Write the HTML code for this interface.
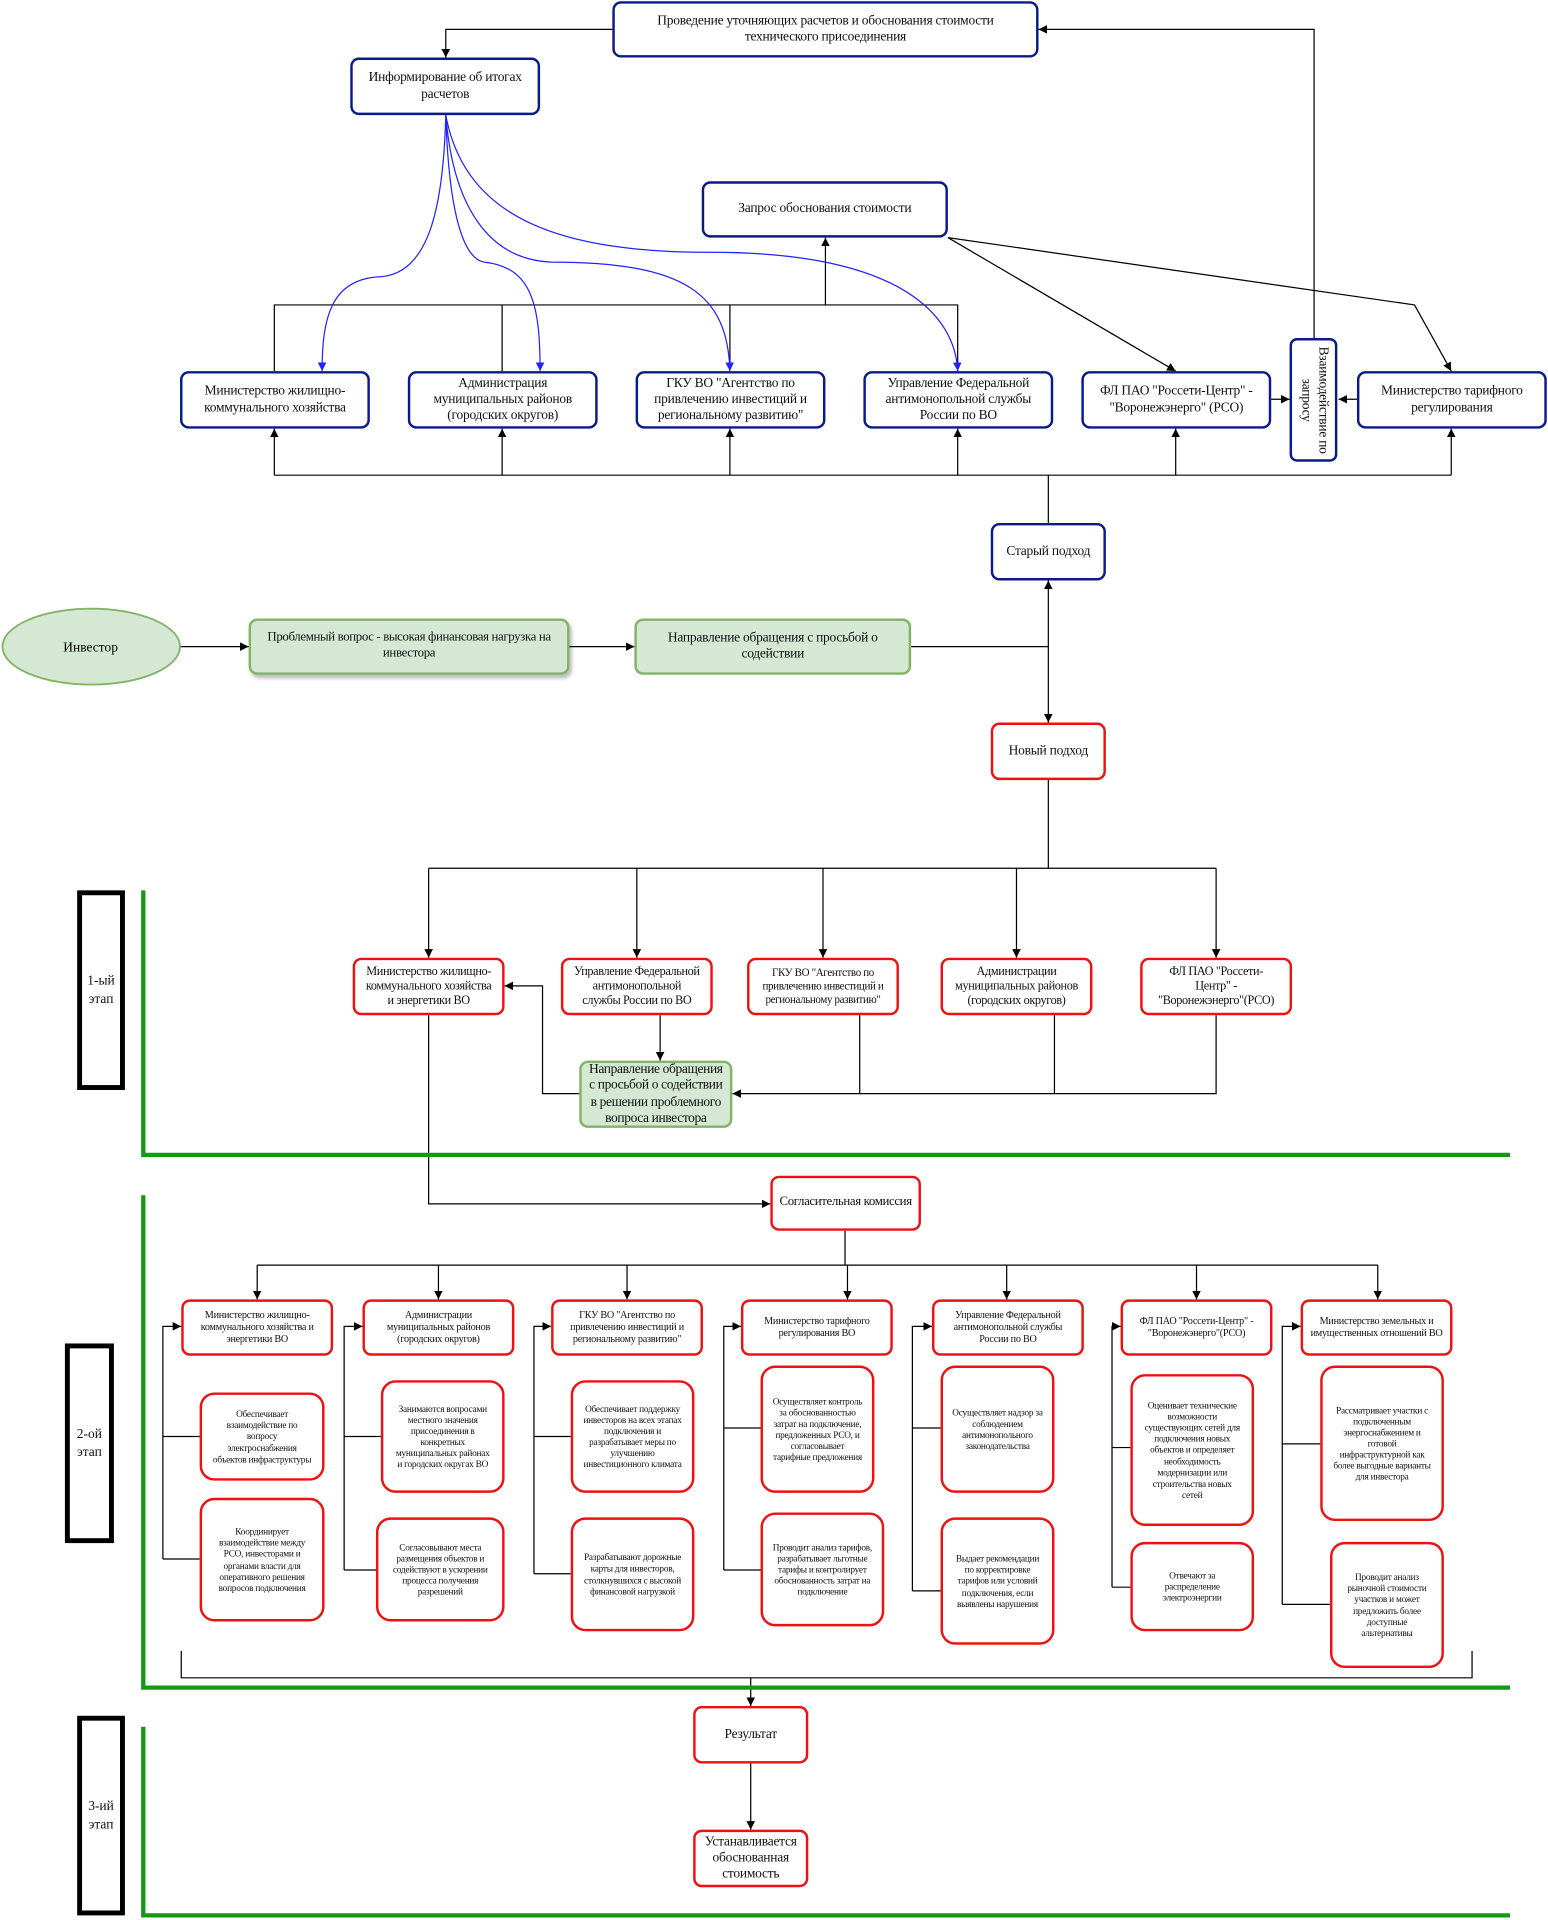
<!DOCTYPE html>
<html><head><meta charset="utf-8"><style>
html,body{margin:0;padding:0;background:#fff;}
body{width:1548px;height:1920px;overflow:hidden;position:relative;}
#c{position:absolute;left:0;top:0;width:1264px;height:1568px;transform:scale(1.22468);transform-origin:0 0;font-family:"Liberation Serif",serif;color:#111;}
.b{position:absolute;box-sizing:border-box;display:flex;align-items:center;justify-content:center;text-align:center;border-radius:7px;background:#fff;line-height:1.2;overflow:hidden;white-space:nowrap;letter-spacing:-0.2px;}
.bl{border:2.5px solid #0a1a8a;font-size:11px;}
.rd{border:2.5px solid #ee1111;font-size:11px;}
.r1{font-size:10px;letter-spacing:-0.3px;}
.gr{border:2px solid #82b366;background:#d5e8d4;font-size:11px;}
.h{font-size:8.3px;}
.d{font-size:7.6px;border-radius:12px;}
.st{position:absolute;box-sizing:border-box;border:4px solid #000;display:flex;align-items:center;justify-content:center;text-align:center;font-size:11px;line-height:1.3;}
svg{position:absolute;left:0;top:0;}
</style></head><body><div id="c">
<svg width="1264" height="1568" viewBox="0 0 1264 1568">
<defs><marker id="a" markerWidth="8" markerHeight="8" refX="7" refY="4" orient="auto" markerUnits="userSpaceOnUse"><path d="M0,0.5 L7,4 L0,7.5 Z" fill="#000"/></marker>
<marker id="ab" markerWidth="8" markerHeight="8" refX="7" refY="4" orient="auto" markerUnits="userSpaceOnUse"><path d="M0,0.5 L7,4 L0,7.5 Z" fill="#2222ff"/></marker></defs>
<g fill="none" stroke="#000" stroke-width="1">
<path d="M500,24 H364 V47" marker-end="url(#a)"/>
<path d="M1073,276 V24 H848" marker-end="url(#a)"/>
<path d="M224,303 V249 H782 V303 M410,303 V249 M596,303 V249"/>
<path d="M674,249 V194" marker-end="url(#a)"/>
<path d="M774,194 L960,303" marker-end="url(#a)"/>
<path d="M774,194 L1155,249 L1185,303" marker-end="url(#a)"/>
<path d="M1038,326 H1053" marker-end="url(#a)"/>
<path d="M1108,326 H1093" marker-end="url(#a)"/>
<path d="M224,388 H1185"/>
<path d="M224,388 V350" marker-end="url(#a)"/><path d="M410,388 V350" marker-end="url(#a)"/><path d="M596,388 V350" marker-end="url(#a)"/><path d="M782,388 V350" marker-end="url(#a)"/><path d="M960,388 V350" marker-end="url(#a)"/><path d="M1185,388 V350" marker-end="url(#a)"/>
<path d="M856,388 V427"/>
<path d="M147,528 H203" marker-end="url(#a)"/>
<path d="M465,528 H518" marker-end="url(#a)"/>
<path d="M744,528 H856"/>
<path d="M856,528 V474" marker-end="url(#a)"/>
<path d="M856,528 V590" marker-end="url(#a)"/>
<path d="M856,637 V709 H350 M856,709 H993"/>
<path d="M350,709 V782" marker-end="url(#a)"/><path d="M520,709 V782" marker-end="url(#a)"/><path d="M672,709 V782" marker-end="url(#a)"/><path d="M830,709 V782" marker-end="url(#a)"/><path d="M993,709 V782" marker-end="url(#a)"/>
<path d="M539,829 V866" marker-end="url(#a)"/>
<path d="M473,893 H443 V805 H412" marker-end="url(#a)"/>
<path d="M702,829 V893 M861,829 V893 M993,829 V893 H598" marker-end="url(#a)"/>
<path d="M350,829 V983 H629" marker-end="url(#a)"/>
<path d="M690,1005 V1033 M210,1033 H1125"/>
<path d="M210,1033 V1061" marker-end="url(#a)"/><path d="M358,1033 V1061" marker-end="url(#a)"/><path d="M512,1033 V1061" marker-end="url(#a)"/><path d="M692,1033 V1061" marker-end="url(#a)"/><path d="M822,1033 V1061" marker-end="url(#a)"/><path d="M977,1033 V1061" marker-end="url(#a)"/><path d="M1125,1033 V1061" marker-end="url(#a)"/>
<path d="M133,1273 V1083 H148" marker-end="url(#a)"/><path d="M133,1173 H163 M133,1273 H163"/>
<path d="M281,1282 V1083 H296" marker-end="url(#a)"/><path d="M281,1173 H311 M281,1282 H307"/>
<path d="M436,1285 V1083 H450" marker-end="url(#a)"/><path d="M436,1173 H466 M436,1285 H466"/>
<path d="M591,1282 V1083 H605" marker-end="url(#a)"/><path d="M591,1166 H621 M591,1282 H621"/>
<path d="M745,1299 V1083 H761" marker-end="url(#a)"/><path d="M745,1166 H768 M745,1299 H768"/>
<path d="M908,1296 V1083 H915" marker-end="url(#a)"/><path d="M908,1182 H923 M908,1296 H923"/>
<path d="M1047,1310 V1083 H1062" marker-end="url(#a)"/><path d="M1047,1179 H1078 M1047,1310 H1086"/>
<path d="M148,1348 V1370 H1202 V1348"/>
<path d="M613,1370 V1393" marker-end="url(#a)"/>
<path d="M613,1440 V1494" marker-end="url(#a)"/>
</g>
<g fill="none" stroke="#2222ff" stroke-width="1">
<path d="M364,94 C362,170 350,224 310,226 C270,228 263,260 263,303" marker-end="url(#ab)"/>
<path d="M364,94 C366,160 375,210 395,214 C435,218 441,250 441,303" marker-end="url(#ab)"/>
<path d="M364,94 C370,170 400,212 450,214 C560,214 594,240 596,303" marker-end="url(#ab)"/>
<path d="M364,94 C380,180 460,206 580,206 C740,206 780,260 782,303" marker-end="url(#ab)"/>
</g>
<g fill="none" stroke="#129a12" stroke-width="3.5">
<path d="M117,727 V943 H1233"/>
<path d="M117,976 V1378 H1233"/>
<path d="M117,1410 V1564 H1233"/>
</g>
<ellipse cx="74.5" cy="528" rx="72.5" ry="31" fill="#d5e8d4" stroke="#82b366" stroke-width="1.5"/>
<text x="74" y="532" font-family="Liberation Serif,serif" font-size="11" text-anchor="middle">Инвестор</text>
</svg>

<div class="b bl" style="left:500px;top:1px;width:348px;height:46px">Проведение уточняющих расчетов и обоснования стоимости<br>технического присоединения</div>
<div class="b bl" style="left:286px;top:47px;width:155px;height:47px">Информирование об итогах<br>расчетов</div>
<div class="b bl" style="left:573px;top:148px;width:201px;height:46px">Запрос обоснования стоимости</div>
<div class="b bl" style="left:147px;top:303px;width:155px;height:47px">Министерство жилищно-<br>коммунального хозяйства</div>
<div class="b bl" style="left:333px;top:303px;width:155px;height:47px">Администрация<br>муниципальных районов<br>(городских округов)</div>
<div class="b bl" style="left:519px;top:303px;width:155px;height:47px">ГКУ ВО "Агентство по<br>привлечению инвестиций и<br>региональному развитию"</div>
<div class="b bl" style="left:705px;top:303px;width:155px;height:47px">Управление Федеральной<br>антимонопольной службы<br>России по ВО</div>
<div class="b bl" style="left:883px;top:303px;width:155px;height:47px">ФЛ ПАО "Россети-Центр" -<br>"Воронежэнерго" (РСО)</div>
<div class="b bl" style="left:1053px;top:276px;width:39px;height:101px;border-radius:6px"><div style="transform:rotate(90deg);white-space:nowrap;line-height:1.25">Взаимодействие по<br>запросу</div></div>
<div class="b bl" style="left:1108px;top:303px;width:155px;height:47px">Министерство тарифного<br>регулирования</div>
<div class="b bl" style="left:809px;top:427px;width:94px;height:47px">Старый подход</div>

<div class="b gr" style="left:203px;top:505px;width:262px;height:46px;box-shadow:2px 3px 3px rgba(0,0,0,0.25);font-size:10.5px;letter-spacing:-0.3px">Проблемный вопрос - высокая финансовая нагрузка на<br>инвестора</div>
<div class="b gr" style="left:518px;top:505px;width:226px;height:46px">Направление обращения с просьбой о<br>содействии</div>
<div class="b rd" style="left:809px;top:590px;width:94px;height:47px">Новый подход</div>

<div class="b rd r1" style="left:288px;top:782px;width:124px;height:47px">Министерство жилищно-<br>коммунального хозяйства<br>и энергетики ВО</div>
<div class="b rd r1" style="left:458px;top:782px;width:124px;height:47px">Управление Федеральной<br>антимонопольной<br>службы России по ВО</div>
<div class="b rd" style="left:610px;top:782px;width:124px;height:47px;font-size:9px;letter-spacing:-0.3px">ГКУ ВО "Агентство по<br>привлечению инвестиций и<br>региональному развитию"</div>
<div class="b rd r1" style="left:768px;top:782px;width:124px;height:47px">Администрации<br>муниципальных районов<br>(городских округов)</div>
<div class="b rd r1" style="left:931px;top:782px;width:124px;height:47px">ФЛ ПАО "Россети-<br>Центр" -<br>"Воронежэнерго"(РСО)</div>
<div class="b gr r1" style="left:473px;top:866px;width:125px;height:55px;border-width:2.5px">Направление обращения<br>с просьбой о содействии<br>в решении проблемного<br>вопроса инвестора</div>
<div class="b rd" style="left:629px;top:960px;width:123px;height:45px;font-size:10.5px;letter-spacing:-0.3px">Согласительная комиссия</div>

<div class="b rd h" style="left:148px;top:1061px;width:124px;height:46px">Министерство жилищно-<br>коммунального хозяйства и<br>энергетики ВО</div>
<div class="b rd h" style="left:296px;top:1061px;width:124px;height:46px">Администрации<br>муниципальных районов<br>(городских округов)</div>
<div class="b rd h" style="left:450px;top:1061px;width:124px;height:46px">ГКУ ВО "Агентство по<br>привлечению инвестиций и<br>региональному развитию"</div>
<div class="b rd h" style="left:605px;top:1061px;width:124px;height:46px">Министерство тарифного<br>регулирования ВО</div>
<div class="b rd h" style="left:761px;top:1061px;width:124px;height:46px">Управление Федеральной<br>антимонопольной службы<br>России по ВО</div>
<div class="b rd h" style="left:915px;top:1061px;width:124px;height:46px">ФЛ ПАО "Россети-Центр" -<br>"Воронежэнерго"(РСО)</div>
<div class="b rd h" style="left:1062px;top:1061px;width:124px;height:46px">Министерство земельных и<br>имущественных отношений ВО</div>

<div class="b rd d" style="left:163px;top:1137px;width:102px;height:72px">Обеспечивает<br>взаимодействие по<br>вопросу<br>электроснабжения<br>объектов инфраструктуры</div>
<div class="b rd d" style="left:163px;top:1223px;width:102px;height:101px">Координирует<br>взаимодействие между<br>РСО, инвесторами и<br>органами власти для<br>оперативного решения<br>вопросов подключения</div>
<div class="b rd d" style="left:311px;top:1127px;width:101px;height:92px">Занимаются вопросами<br>местного значения<br>присоединения в<br>конкретных<br>муниципальных районах<br>и городских округах ВО</div>
<div class="b rd d" style="left:307px;top:1239px;width:105px;height:85px">Согласовывают места<br>размещения объектов и<br>содействуют в ускорении<br>процесса получения<br>разрешений</div>
<div class="b rd d" style="left:466px;top:1127px;width:101px;height:92px">Обеспечивает поддержку<br>инвесторов на всех этапах<br>подключения и<br>разрабатывает меры по<br>улучшению<br>инвестиционного климата</div>
<div class="b rd d" style="left:466px;top:1239px;width:101px;height:93px">Разрабатывают дорожные<br>карты для инвесторов,<br>столкнувшихся с высокой<br>финансовой нагрузкой</div>
<div class="b rd d" style="left:621px;top:1115px;width:93px;height:104px">Осуществляет контроль<br>за обоснованностью<br>затрат на подключение,<br>предложенных РСО, и<br>согласовывает<br>тарифные предложения</div>
<div class="b rd d" style="left:621px;top:1235px;width:101px;height:93px">Проводит анализ тарифов,<br>разрабатывает льготные<br>тарифы и контролирует<br>обоснованность затрат на<br>подключение</div>
<div class="b rd d" style="left:768px;top:1115px;width:93px;height:104px">Осуществляет надзор за<br>соблюдением<br>антимонопольного<br>законодательства</div>
<div class="b rd d" style="left:768px;top:1239px;width:93px;height:104px">Выдает рекомендации<br>по корректировке<br>тарифов или условий<br>подключения, если<br>выявлены нарушения</div>
<div class="b rd d" style="left:923px;top:1122px;width:101px;height:124px">Оценивает технические<br>возможности<br>существующих сетей для<br>подключения новых<br>объектов и определяет<br>необходимость<br>модернизации или<br>строительства новых<br>сетей</div>
<div class="b rd d" style="left:923px;top:1259px;width:101px;height:73px">Отвечают за<br>распределение<br>электроэнергии</div>
<div class="b rd d" style="left:1078px;top:1115px;width:101px;height:127px">Рассматривает участки с<br>подключенным<br>энергоснабжением и<br>готовой<br>инфраструктурной как<br>более выгодные варианты<br>для инвестора</div>
<div class="b rd d" style="left:1086px;top:1259px;width:93px;height:103px">Проводит анализ<br>рыночной стоимости<br>участков и может<br>предложить более<br>доступные<br>альтернативы</div>

<div class="b rd" style="left:566px;top:1393px;width:94px;height:47px">Результат</div>
<div class="b rd" style="left:566px;top:1494px;width:94px;height:47px">Устанавливается<br>обоснованная<br>стоимость</div>

<div class="st" style="left:63px;top:727px;width:39px;height:163px">1-ый<br>этап</div>
<div class="st" style="left:53px;top:1097px;width:40px;height:163px">2-ой<br>этап</div>
<div class="st" style="left:63px;top:1401px;width:39px;height:163px">3-ий<br>этап</div>
</div></body></html>
